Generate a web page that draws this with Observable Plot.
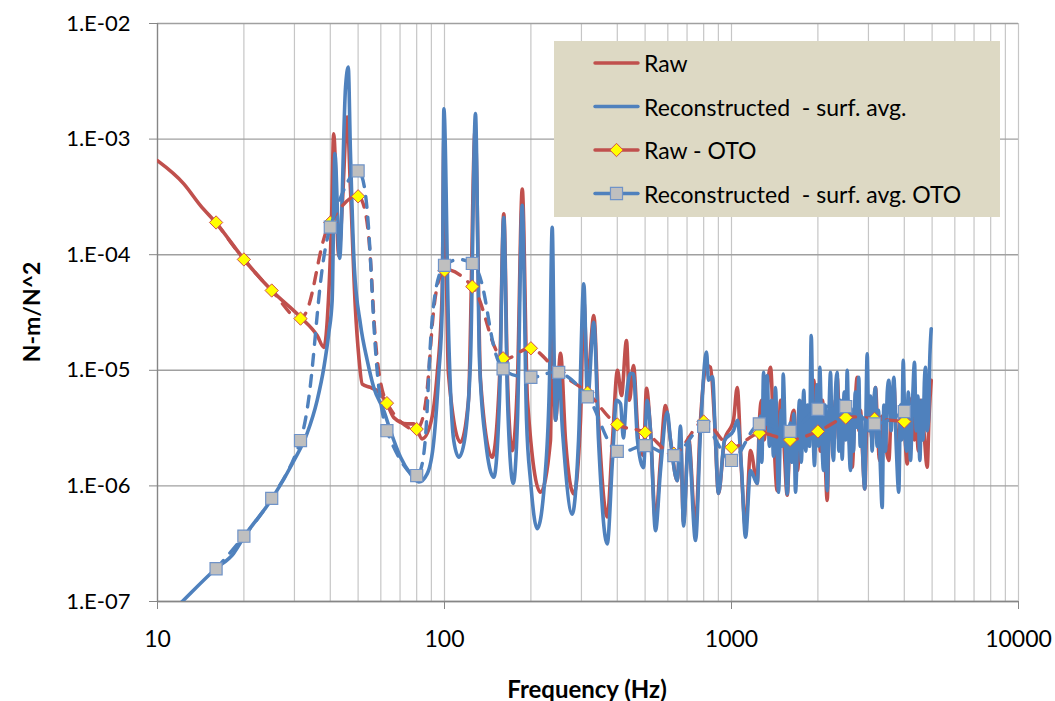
<!DOCTYPE html>
<html>
<head>
<meta charset="utf-8">
<script src="https://cdn.jsdelivr.net/npm/d3@7"></script>
<script src="https://cdn.jsdelivr.net/npm/@observablehq/plot@0.6"></script>
<style>
  html, body { margin: 0; padding: 0; background: #ffffff; }
  #chart { width: 1055px; height: 701px; }
</style>
</head>
<body>
<div id="chart"></div>
<script>
// ---------- Data ----------
const rawFreq = [10,12.35,14.1,16.1,20.1,25.0,31.5,36.0,38.0,39.4,40.4,41.1,42.8,44.1,45.8,47.0,48.9,50.3,51.7,55.2,59.0,63.1,66.6,74.1,78.2,83.6,89.4,94.3,98.2,99.5,103.2,113.7,121.2,127.9,133.5,146.6,155.4,160.9,165.8,172.2,179.6,186.6,194.6,216.0,234.0,237.3,243.7,253.7,264.1,282.2,297.8,305.8,315.0,331.3,344.1,368.9,384.8,400.6,413.7,430.6,441.1,455.4,474.2,493.6,505.6,522.1,543.5,565.7,588.8,613.2,646.9,664.3,680.5,708.3,749.2,779.8,818.2,845.0,872.6,900.8,945.4,1016,1047,1083,1119,1165,1229,1250,1272,1300,1330,1368,1401,1443,1482,1520,1564,1600,1649,1698,1740,1782,1820,1855,1900,1936,1970,2010,2040,2075,2115,2155,2190,2231,2280,2335,2375,2417,2470,2516,2575,2634,2690,2742,2780,2815,2860,2914,2960,3003,3090,3175,3230,3279,3340,3413,3470,3533,3600,3678,3750,3818,3900,3975,4030,4095,4180,4262,4340,4411,4480,4555,4680,4807,4880,4965];
const rawVal = [6.5e-4,4.1e-4,2.67e-4,1.85e-4,9.0e-5,4.9e-5,2.88e-5,2.0e-5,1.58e-5,4.0e-5,1.98e-4,1.11e-3,9.8e-5,2.9e-4,1.55e-3,3.84e-4,3.5e-5,1.3e-5,7.6e-6,7.1e-6,6.5e-6,5.1e-6,3.9e-6,3.44e-6,3.44e-6,2.55e-6,3.44e-6,9.3e-6,4.9e-5,1.0e-3,9.4e-6,2.39e-6,5.5e-6,1.2e-3,8.2e-6,1.77e-6,8.2e-6,2.26e-4,8.2e-6,2.02e-6,8.2e-6,3.7e-4,5.5e-6,8.8e-7,2.47e-6,2.2e-5,3.7e-6,1.4e-5,2.47e-6,8.5e-7,3.7e-6,4.0e-5,8.2e-6,2.98e-5,3.7e-6,5.4e-7,2.47e-6,1.0e-5,6.05e-6,1.81e-5,5.5e-6,1.1e-5,2.47e-6,1.83e-6,6.97e-6,3.0e-6,5.0e-7,1.66e-6,4.95e-6,2.47e-6,1.11e-6,2.47e-6,4.85e-7,2.62e-6,4.5e-7,3.7e-6,1.1e-5,1.06e-5,3.7e-6,8.6e-7,2.47e-6,3.7e-6,7.1e-6,1.36e-6,4.4e-7,2.02e-6,1.05e-6,3.5e-6,5.5e-6,2.5e-6,6.5e-6,1.06e-5,3.0e-6,9.1e-7,5.5e-6,2.5e-6,8.3e-7,3.0e-6,4.5e-6,1.36e-6,4.0e-6,5.5e-6,2.2e-6,4.0e-6,3.0e-6,8.2e-6,3.0e-6,4.5e-6,2.0e-6,5.5e-6,2.0e-6,7.5e-7,3.5e-6,5.5e-6,2.5e-6,8.7e-6,3.5e-6,2.0e-6,4.5e-6,6.7e-6,2.5e-6,1.45e-6,4.5e-6,8.7e-6,3.0e-6,4.5e-6,2.0e-6,9.4e-7,3.5e-6,5.5e-6,2.5e-6,7.1e-6,3.0e-6,1.66e-6,4.0e-6,3.7e-6,2.0e-6,1.66e-6,4.5e-6,7.6e-6,3.0e-6,2.47e-6,4.5e-6,5.5e-6,2.5e-6,1.55e-6,4.0e-6,5.85e-6,2.5e-6,3.0e-6,2.0e-6,5.5e-6,3.0e-6,1.45e-6,4.0e-6,8.2e-6];

const reconFreq = [10,12.2,16.0,18.4,20.1,25.1,29.9,33.2,36.0,38.0,39.5,40.6,41.5,43.1,45.2,46.2,47.0,48.5,50.95,53.8,56.7,61.4,64.8,70.3,76.1,81.4,87.0,91.8,95.5,98.2,99.5,103.5,107.7,112.2,117.4,123.2,128.2,132.4,139.0,148.5,155.4,160.9,165.8,173.6,179.6,186.6,193.1,199.4,210.4,224.8,232.2,237.3,241.7,243.7,250.2,257.7,278.6,293.1,305.8,315.0,331.3,344.1,368.9,384.8,397.4,410.5,420,430.6,444.7,455.4,470.4,493.6,508.5,522.1,543.5,565.7,597.0,613.2,646.9,664.3,680.5,708.3,749.2,779.8,818.2,831.6,858.6,879.7,900.8,945.4,1016,1049,1083,1119,1165,1229,1260,1276,1293,1312,1332,1355,1379,1400,1423,1458,1490,1502,1514,1540,1564,1600,1625,1649,1671,1700,1726,1750,1786,1815,1840,1870,1896,1920,1946,1985,2010,2031,2060,2092,2120,2155,2185,2213,2240,2267,2300,2335,2365,2398,2430,2470,2500,2530,2560,2598,2630,2661,2700,2740,2777,2808,2838,2875,2914,2940,2970,3010,3050,3090,3130,3175,3215,3252,3300,3350,3395,3440,3490,3533,3600,3640,3678,3750,3827,3880,3920,3966,4020,4072,4130,4205,4270,4342,4400,4460,4531,4600,4650,4700,4742,4800,4858,4900,4965];
const reconVal = [6.1e-8,1.0e-7,1.93e-7,2.6e-7,3.67e-7,7.8e-7,1.66e-6,2.84e-6,5.5e-6,1.06e-5,2.08e-5,4.0e-5,7.5e-4,9.3e-5,2.8e-3,4.2e-3,8.0e-4,7.8e-5,2.5e-5,1.22e-5,7.1e-6,4.5e-6,3.0e-6,1.77e-6,1.27e-6,1.08e-6,1.27e-6,2.47e-6,9.3e-6,3.5e-5,1.83e-3,1.81e-5,2.47e-6,1.77e-6,2.47e-6,1.22e-5,1.66e-3,1.22e-5,2.47e-6,1.19e-6,5.5e-6,2.1e-4,5.5e-6,1.05e-6,3.7e-6,2.67e-4,3.7e-6,1.11e-6,4.26e-7,1.36e-6,8.2e-6,1.73e-4,8.2e-6,3.7e-6,9.3e-6,3.0e-6,5.7e-7,2.47e-6,5.6e-5,5.5e-6,2.6e-5,2.47e-6,3.15e-7,1.66e-6,5.5e-6,5.15e-6,2.6e-6,6.0e-6,9.4e-6,9.3e-6,2.47e-6,1.44e-6,5.5e-6,3.0e-6,4.1e-7,1.36e-6,4.35e-6,2.47e-6,1.11e-6,3.3e-6,4.5e-7,2.47e-6,3.37e-7,3.0e-6,1.44e-5,8.2e-6,8.8e-6,2.47e-6,8.6e-7,2.47e-6,3.0e-6,3.7e-6,1.45e-6,3.6e-7,1.36e-6,1.05e-6,4.0e-6,1.6e-6,9.6e-6,3.5e-6,9.0e-6,2.2e-6,5.5e-6,1.8e-6,7.1e-6,8.8e-7,4.5e-6,2.2e-6,9.3e-6,2.4e-6,8.5e-7,3.5e-6,1.6e-6,4.2e-6,8.8e-7,2.6e-6,5.5e-6,1.6e-6,6.7e-6,2.0e-6,5.0e-6,2.2e-6,2.0e-5,4.0e-6,1.5e-6,7.5e-6,2.2e-6,1.06e-5,3.0e-6,1.36e-6,5.0e-6,9.1e-7,4.0e-6,9.6e-6,2.5e-6,1.66e-6,6.0e-6,9.6e-6,2.0e-6,5.5e-6,1.7e-6,6.5e-6,2.5e-6,1.0e-5,3.0e-6,1.36e-6,4.5e-6,2.0e-6,6.5e-6,3.2e-6,8.7e-6,2.2e-6,4.0e-6,1.5e-6,9.4e-7,4.0e-6,1.39e-5,3.0e-6,6.0e-6,2.0e-6,5.0e-6,7.1e-6,2.2e-6,4.5e-6,1.5e-6,6.5e-7,5.0e-6,2.0e-6,6.5e-6,8.2e-6,3.0e-6,6.0e-6,8.7e-6,2.2e-6,8.8e-7,5.0e-6,2.5e-6,1.22e-5,3.0e-6,2.0e-6,6.5e-6,1.66e-6,5.0e-6,1.17e-5,3.0e-6,6.0e-6,1.66e-6,5.5e-6,2.5e-6,8.0e-6,1.06e-5,3.0e-6,3.7e-6,1.1e-5,2.29e-5];

// One-third-octave band centres and values
const otoFreq = [16,20,25,31.5,40,50,63,80,100,125,160,200,250,315,400,500,630,800,1000,1250,1600,2000,2500,3150,4000];
const rawOto = [1.9e-4,9.1e-5,4.9e-5,2.8e-5,1.9e-4,3.2e-4,5.2e-6,3.1e-6,7.3e-5,5.3e-5,1.27e-5,1.55e-5,9.6e-6,6.4e-6,3.4e-6,2.9e-6,1.9e-6,3.6e-6,2.16e-6,2.86e-6,2.5e-6,2.96e-6,3.9e-6,3.8e-6,3.6e-6];
const reconOto = [1.92e-7,3.67e-7,7.8e-7,2.47e-6,1.73e-4,5.3e-4,3.0e-6,1.23e-6,8.1e-5,8.4e-5,1.03e-5,8.7e-6,9.6e-6,5.9e-6,1.99e-6,2.23e-6,1.83e-6,3.27e-6,1.66e-6,3.44e-6,2.96e-6,4.6e-6,4.86e-6,3.44e-6,4.4e-6];

// Axis ticks and texts
const xTicks = [10, 100, 1000, 10000];
const yTicks = [1e-7, 1e-6, 1e-5, 1e-4, 1e-3, 1e-2];
const seriesNames = ["Raw", "Reconstructed  - surf. avg.", "Raw - OTO", "Reconstructed  - surf. avg. OTO"];
const xTitle = "Frequency (Hz)";
const yTitle = "N-m/N^2";

// ---------- Build tables ----------
const rawData = rawFreq.map((f, i) => ({f, v: rawVal[i]}));
const reconData = reconFreq.map((f, i) => ({f, v: reconVal[i]}));
const otoData = otoFreq.map((f, i) => ({f, raw: rawOto[i], recon: reconOto[i]}));
const xGrid = xTicks.slice(0, -1).flatMap(d => [2,3,4,5,6,7,8,9,10].map(k => d * k));

const RED = "#C0504D", BLUE = "#4F81BD";

const plot = Plot.plot({
  width: 1055,
  height: 701,
  marginLeft: 157,
  marginRight: 37,
  marginTop: 23,
  marginBottom: 100,
  x: {type: "log", domain: [10, 10000]},
  y: {type: "log", domain: [1e-7, 1e-2]},
  style: {fontFamily: "Lato, 'Open Sans', sans-serif", background: "#ffffff", color: "#000", overflow: "visible"},
  marks: [
    Plot.gridX(xGrid, {stroke: "#C6C6C6", strokeOpacity: 1, strokeWidth: 1.2}),
    Plot.gridY(yTicks, {stroke: "#A0A0A0", strokeOpacity: 1, strokeWidth: 1.4}),
    Plot.ruleX([10], {stroke: "#868686", strokeWidth: 1.4}),
    Plot.ruleY([1e-7], {stroke: "#868686", strokeWidth: 1.4}),
    Plot.axisX(xTicks, {anchor: "bottom", tickSize: 8, tickPadding: 21, fontSize: 23, stroke: "#868686", fill: "#000", tickFormat: d => String(d), label: null}),
    Plot.axisY(yTicks, {anchor: "left", tickSize: 8, tickPadding: 19, fontSize: 22, stroke: "#868686", fill: "#000",
      tickFormat: d => "1.E-" + String(Math.round(-Math.log10(d))).padStart(2, "0"), label: null}),
    Plot.line(rawData, {x: "f", y: "v", stroke: RED, strokeWidth: 3.6, curve: "monotone-x", clip: true}),
    Plot.line(reconData, {x: "f", y: "v", stroke: BLUE, strokeWidth: 3.6, curve: "monotone-x", clip: true}),
    Plot.line(otoData, {x: "f", y: "raw", stroke: RED, strokeWidth: 3.4, strokeDasharray: "11,10", curve: "catmull-rom", clip: true}),
    Plot.dot(otoData, {x: "f", y: "raw", symbol: "diamond2", r: 6, fill: "#FFFF00", stroke: "#D0504A", strokeWidth: 1}),
    Plot.line(otoData, {x: "f", y: "recon", stroke: BLUE, strokeWidth: 3.4, strokeDasharray: "11,10", curve: "catmull-rom", clip: true}),
    Plot.dot(otoData, {x: "f", y: "recon", symbol: "square", r: 6.8, fill: "#BFBFBF", stroke: "#6F93C8", strokeWidth: 1.2})
  ]
});

document.getElementById("chart").appendChild(plot);

// ---------- Titles and legend ----------
const svg = d3.select(plot);
svg.append("text")
  .attr("x", 587).attr("y", 688)
  .attr("text-anchor", "middle").attr("dominant-baseline", "central")
  .attr("font-family", "Lato, sans-serif").attr("font-weight", "bold").attr("font-size", 24)
  .attr("fill", "#000").text(xTitle);
svg.append("text")
  .attr("transform", "translate(31,312) rotate(-90)")
  .attr("text-anchor", "middle").attr("dominant-baseline", "central")
  .attr("font-family", "Lato, sans-serif").attr("font-weight", "bold").attr("font-size", 23)
  .attr("fill", "#000").text(yTitle);

const lg = svg.append("g").attr("font-family", "Lato, sans-serif").attr("font-size", 23).attr("text-anchor", "start");
lg.append("rect").attr("x", 554).attr("y", 41).attr("width", 446).attr("height", 176).attr("fill", "#DDD9C4");
const styles = [
  {color: RED, marker: null},
  {color: BLUE, marker: null},
  {color: RED, marker: "diamond"},
  {color: BLUE, marker: "square"}
];
seriesNames.forEach((name, i) => {
  const cy = 63 + i * 43.5;
  const st = styles[i];
  lg.append("line").attr("x1", 595).attr("x2", 638).attr("y1", cy).attr("y2", cy)
    .attr("stroke", st.color).attr("stroke-width", 3.4).attr("stroke-linecap", "round");
  if (st.marker === "diamond") {
    lg.append("path").attr("d", d3.symbol(d3.symbolDiamond2, Math.PI * 36)())
      .attr("transform", `translate(616.5,${cy})`).attr("fill", "#FFFF00").attr("stroke", "#D0504A").attr("stroke-width", 1);
  } else if (st.marker === "square") {
    lg.append("path").attr("d", d3.symbol(d3.symbolSquare, Math.PI * 6.8 * 6.8)())
      .attr("transform", `translate(616.5,${cy})`).attr("fill", "#BFBFBF").attr("stroke", "#6F93C8").attr("stroke-width", 1.2);
  }
  lg.append("text").attr("x", 644).attr("y", cy).attr("dominant-baseline", "central")
    .attr("text-anchor", "start").style("white-space", "pre").attr("fill", "#000").text(name);
});
</script>
</body>
</html>
